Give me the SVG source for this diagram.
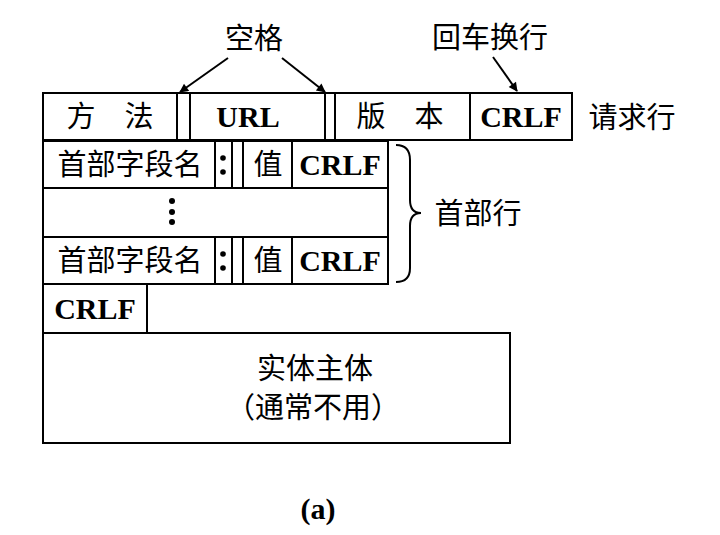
<svg xmlns="http://www.w3.org/2000/svg" width="720" height="535" viewBox="0 0 720 535">
<defs>
<marker id="ah" viewBox="0 0 10 10" refX="9" refY="5" markerWidth="11" markerHeight="9" orient="auto" markerUnits="userSpaceOnUse">
<path d="M0,0 L10,5 L0,10 z" fill="#000"/>
</marker>
<style>
.box{fill:#fff;stroke:#000;stroke-width:2}
.cn{font-family:"Noto Sans CJK SC","Noto Sans",sans-serif;font-size:29px;fill:#000}
.en{font-family:"Liberation Serif",serif;font-weight:bold;font-size:30px;fill:#000}
.ln{stroke:#000;stroke-width:2;fill:none}
</style>
</defs>
<rect width="720" height="535" fill="#fff"/>
<g id="labels">
<text class="cn" x="254" y="49" text-anchor="middle">空格</text>
<text class="cn" x="490" y="48" text-anchor="middle" font-size="30">回车换行</text>
<text class="cn" x="632" y="128" text-anchor="middle">请求行</text>
<text class="cn" x="478" y="224" text-anchor="middle">首部行</text>
</g>
<g id="request-line">
<rect class="box" x="43" y="93" width="134" height="47"/>
<rect class="box" x="177" y="93" width="13" height="47"/>
<rect class="box" x="190" y="93" width="135" height="47"/>
<rect class="box" x="325" y="93" width="10" height="47"/>
<rect class="box" x="335" y="93" width="135" height="47"/>
<rect class="box" x="470" y="93" width="102" height="47"/>
<text class="cn" x="110" y="127" text-anchor="middle">方　法</text>
<text class="en" x="248" y="127" text-anchor="middle">URL</text>
<text class="cn" x="400" y="127" text-anchor="middle">版　本</text>
<text class="en" x="521" y="127" text-anchor="middle">CRLF</text>
</g>
<g id="header1">
<rect class="box" x="43" y="141" width="172" height="47"/>
<rect class="box" x="215" y="141" width="17" height="47"/>
<rect class="box" x="232" y="141" width="11" height="47"/>
<rect class="box" x="243" y="141" width="49" height="47"/>
<rect class="box" x="292" y="141" width="96" height="47"/>
<text class="cn" x="130" y="175" text-anchor="middle">首部字段名</text>
<circle cx="223" cy="158" r="2.8"/>
<circle cx="223" cy="172" r="2.8"/>
<text class="cn" x="268" y="175" text-anchor="middle">值</text>
<text class="en" x="340" y="175" text-anchor="middle">CRLF</text>
</g>
<g id="header-ellipsis">
<rect class="box" x="43" y="188" width="345" height="49"/>
<circle cx="172" cy="201" r="3"/>
<circle cx="172" cy="212" r="3"/>
<circle cx="172" cy="222" r="3"/>
</g>
<g id="header2">
<rect class="box" x="43" y="237" width="172" height="47"/>
<rect class="box" x="215" y="237" width="17" height="47"/>
<rect class="box" x="232" y="237" width="11" height="47"/>
<rect class="box" x="243" y="237" width="49" height="47"/>
<rect class="box" x="292" y="237" width="96" height="47"/>
<text class="cn" x="130" y="271" text-anchor="middle">首部字段名</text>
<circle cx="223" cy="254" r="2.8"/>
<circle cx="223" cy="268" r="2.8"/>
<text class="cn" x="268" y="271" text-anchor="middle">值</text>
<text class="en" x="340" y="271" text-anchor="middle">CRLF</text>
</g>
<g id="crlf-row">
<rect class="box" x="43" y="284" width="104" height="49"/>
<text class="en" x="95" y="319" text-anchor="middle">CRLF</text>
</g>
<g id="entity-body">
<rect class="box" x="43" y="333" width="467" height="110"/>
<text class="cn" x="315" y="379" text-anchor="middle" font-size="26">实体主体</text>
<text class="cn" x="313" y="418" text-anchor="middle" font-size="26">（通常不用）</text>
</g>
<g id="connectors">
<line class="ln" x1="228" y1="58" x2="180" y2="92" marker-end="url(#ah)"/>
<line class="ln" x1="282" y1="58" x2="325" y2="92" marker-end="url(#ah)"/>
<line class="ln" x1="493" y1="57" x2="517" y2="91" marker-end="url(#ah)"/>
<path class="ln" d="M396,145 Q410,145 410,160 L410,200 Q410,213 421,213 Q410,213 410,226 L410,268 Q410,282 396,282"/>
</g>
<text class="en" x="318" y="519" text-anchor="middle" font-size="24">(a)</text>
</svg>
